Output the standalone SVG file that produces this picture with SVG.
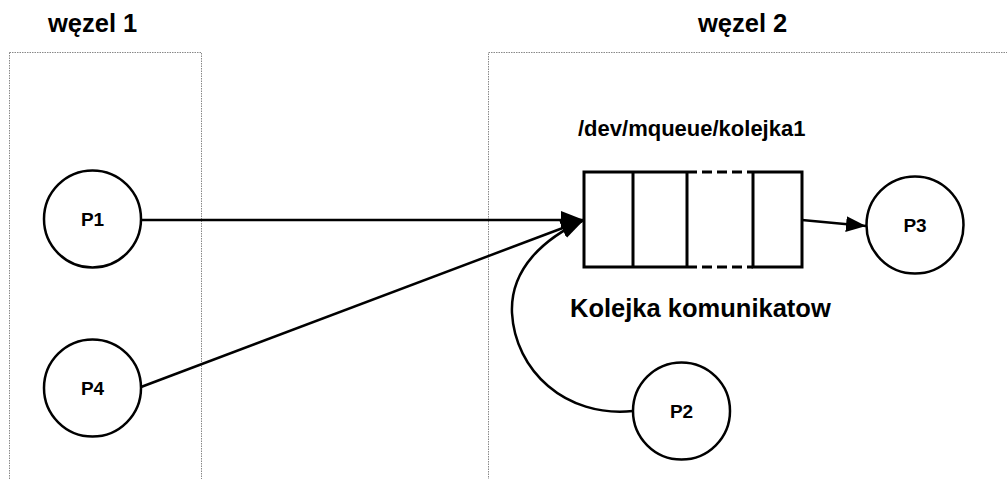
<svg xmlns="http://www.w3.org/2000/svg" width="1007" height="479" viewBox="0 0 1007 479">
<style>
.frame{fill:none;stroke:#888;stroke-width:1;stroke-dasharray:1.5,1}
.node{fill:#fff;stroke:#000;stroke-width:2.5}
.lbl{font-family:"Liberation Sans",Arial,sans-serif;font-weight:bold;fill:#000}
.plabel{font-size:19px;text-anchor:middle}
.head{font-size:25.5px}
.conn{fill:none;stroke:#000;stroke-width:2.5}
.q{fill:none;stroke:#000;stroke-width:3}
.qd{fill:none;stroke:#000;stroke-width:3;stroke-dasharray:10,5}
</style>
<defs>
<marker id="ah" markerUnits="userSpaceOnUse" markerWidth="26" markerHeight="20" refX="23" refY="9" orient="auto">
<path d="M0,0 L23,9 L0,18 z" fill="#000"/>
</marker>
<marker id="ah2" markerUnits="userSpaceOnUse" markerWidth="22" markerHeight="18" refX="20" refY="8" orient="auto">
<path d="M0,0 L20,8 L0,16 z" fill="#000"/>
</marker>
</defs>
<g id="wezel1">
<rect class="frame" x="9.5" y="52.5" width="192" height="460"/>
<text class="lbl head" x="48" y="32">węzel 1</text>
</g>
<g id="wezel2">
<rect class="frame" x="488.5" y="52.5" width="600" height="460"/>
<text class="lbl head" x="698" y="32">węzel 2</text>
</g>
<g id="queue">
<text class="lbl" style="font-size:22px" x="578" y="136">/dev/mqueue/kolejka1</text>
<path class="q" d="M687,172 L584,172 L584,267 L687,267 M633,172 L633,267 M687,172 L687,267 M753,172 L802,172 L802,267 L753,267 L753,172"/>
<path class="qd" d="M687,172 L753,172 M687,267 L753,267"/>
<text class="lbl" style="font-size:25.5px" x="570" y="317">Kolejka komunikatow</text>
</g>
<g id="P1">
<circle class="node" cx="92.5" cy="219" r="48.5"/>
<text class="lbl plabel" x="92.5" y="226">P1</text>
</g>
<g id="P4">
<circle class="node" cx="92.5" cy="388" r="48.5"/>
<text class="lbl plabel" x="92.5" y="395">P4</text>
</g>
<g id="P2">
<circle class="node" cx="681.5" cy="411" r="48.5"/>
<text class="lbl plabel" x="681.5" y="418">P2</text>
</g>
<g id="P3">
<circle class="node" cx="915" cy="225" r="48.5"/>
<text class="lbl plabel" x="915" y="232">P3</text>
</g>
<g id="connectors">
<path class="conn" d="M141,220 L584,220" marker-end="url(#ah)"/>
<path class="conn" d="M141,387 L584,220" marker-end="url(#ah)"/>
<path class="conn" d="M633,411 C565,418 515,370 512,313 C510,268 545,238 584,220" marker-end="url(#ah)"/>
<path class="conn" d="M802,220 L866,226" marker-end="url(#ah2)"/>
</g>
</svg>
